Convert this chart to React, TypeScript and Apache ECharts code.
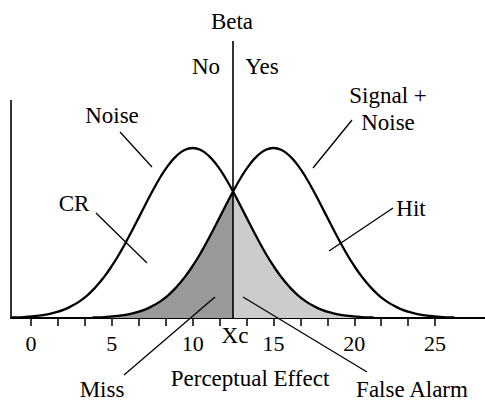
import { useEffect, useRef } from 'react';
import * as echarts from 'echarts';

// Decision criterion (Xc)
const criterion = 12.5;

// Axis ticks and labels
const xTicks = [0, 1.667, 3.333, 5, 6.667, 8.333, 10, 11.667, 13.333, 15, 16.667, 18.333, 20, 21.667, 23.333, 25];
const xLabels = [0, 5, 10, 15, 20, 25];

// Noise distribution (relative height, peak = 1)
const noiseCurve: [number, number][] = [
  [-1.2, 0.003], [-1, 0.003], [-0.5, 0.005], [0, 0.009], [0.5, 0.014], [1, 0.022], [1.5, 0.033],
  [2, 0.048], [2.5, 0.07], [3, 0.098], [3.5, 0.135], [4, 0.182], [4.5, 0.239], [5, 0.306],
  [5.5, 0.383], [6, 0.469], [6.5, 0.56], [7, 0.653], [7.5, 0.744], [8, 0.828], [8.5, 0.899],
  [9, 0.954], [9.5, 0.988], [10, 1], [10.5, 0.988], [11, 0.954], [11.5, 0.899], [12, 0.828],
  [12.5, 0.744], [13, 0.653], [13.5, 0.56], [14, 0.469], [14.5, 0.383], [15, 0.306], [15.5, 0.239],
  [16, 0.182], [16.5, 0.135], [17, 0.098], [17.5, 0.07], [18, 0.048], [18.5, 0.033], [19, 0.022],
  [19.5, 0.014], [20, 0.009], [20.5, 0.005], [21, 0.003], [21.2, 0.003],
];

// Signal + Noise distribution (relative height, peak = 1)
const signalCurve: [number, number][] = [
  [3.8, 0.003], [4, 0.003], [4.5, 0.005], [5, 0.009], [5.5, 0.014], [6, 0.022], [6.5, 0.033],
  [7, 0.048], [7.5, 0.07], [8, 0.098], [8.5, 0.135], [9, 0.182], [9.5, 0.239], [10, 0.306],
  [10.5, 0.383], [11, 0.469], [11.5, 0.56], [12, 0.653], [12.5, 0.744], [13, 0.828], [13.5, 0.899],
  [14, 0.954], [14.5, 0.988], [15, 1], [15.5, 0.988], [16, 0.954], [16.5, 0.899], [17, 0.828],
  [17.5, 0.744], [18, 0.653], [18.5, 0.56], [19, 0.469], [19.5, 0.383], [20, 0.306], [20.5, 0.239],
  [21, 0.182], [21.5, 0.135], [22, 0.098], [22.5, 0.07], [23, 0.048], [23.5, 0.033], [24, 0.022],
  [24.5, 0.014], [25, 0.009], [25.5, 0.005], [26, 0.003], [26.2, 0.003],
];

const xMin = -1.24;
const xMax = 28.09;
const yMax = 1.6294;
const yAxisTop = 1.2824;

const FONT = "'Liberation Serif', 'Times New Roman', serif";
const FS = 23;
const TICK_FS = 22;

// Annotation texts (pixel layout)
const labels: { text: string; x: number; y: number }[] = [
  { text: 'Beta', x: 232, y: 21 },
  { text: 'No', x: 206, y: 66 },
  { text: 'Yes', x: 262, y: 66 },
  { text: 'Noise', x: 112, y: 115 },
  { text: 'CR', x: 74, y: 203 },
  { text: 'Signal +', x: 388, y: 95 },
  { text: 'Noise', x: 388, y: 122 },
  { text: 'Hit', x: 411, y: 208 },
  { text: 'Xc', x: 235, y: 335 },
  { text: 'Perceptual Effect', x: 250, y: 378 },
  { text: 'Miss', x: 102, y: 389 },
  { text: 'False Alarm', x: 412, y: 389 },
];

// Leader lines (pixel layout)
const leaders: [number, number, number, number][] = [
  [120, 132, 152, 167],
  [96, 213, 147, 263],
  [352, 120, 313, 168],
  [393, 208, 329, 251],
  [124, 375, 215, 297],
  [367, 372, 243, 297],
];

export default function App() {
  const ref = useRef<HTMLDivElement>(null);
  useEffect(() => {
    if (!ref.current) return;
    const chart = echarts.init(ref.current, null, { renderer: 'svg' });
    const missArea = signalCurve.filter((p) => p[0] <= criterion);
    const faArea = noiseCurve.filter((p) => p[0] >= criterion);
    const graphic: any[] = [];
    leaders.forEach(([x1, y1, x2, y2]) => {
      graphic.push({
        type: 'line',
        shape: { x1, y1, x2, y2 },
        style: { stroke: '#000', lineWidth: 1.3 },
        z: 100,
      });
    });
    labels.forEach((l) => {
      graphic.push({
        type: 'text',
        x: l.x,
        y: l.y,
        style: {
          text: l.text,
          fill: '#000',
          fontSize: FS,
          fontFamily: FONT,
          align: 'center',
          verticalAlign: 'middle',
        },
        z: 100,
      });
    });
    chart.setOption({
      animation: false,
      grid: { left: 11, right: 0, top: 41, bottom: 402 - 318, containLabel: false },
      xAxis: {
        type: 'value',
        min: xMin,
        max: xMax,
        axisLine: { show: true, onZero: false, lineStyle: { color: '#000', width: 2 } },
        axisTick: { show: true, customValues: xTicks, length: 8, lineStyle: { color: '#000', width: 1.5 } },
        axisLabel: {
          show: true,
          customValues: xLabels,
          color: '#000',
          fontSize: TICK_FS,
          fontFamily: FONT,
          margin: 14,
        },
        splitLine: { show: false },
      },
      yAxis: {
        type: 'value',
        min: 0,
        max: yMax,
        show: false,
        splitLine: { show: false },
      },
      series: [
        {
          type: 'line',
          data: missArea,
          smooth: true,
          showSymbol: false,
          lineStyle: { width: 0 },
          areaStyle: { color: '#999999', opacity: 1 },
          z: 1,
          silent: true,
        },
        {
          type: 'line',
          data: faArea,
          smooth: true,
          showSymbol: false,
          lineStyle: { width: 0 },
          areaStyle: { color: '#cccccc', opacity: 1 },
          z: 1,
          silent: true,
        },
        {
          type: 'line',
          name: 'Noise',
          data: noiseCurve,
          smooth: true,
          showSymbol: false,
          lineStyle: { color: '#000', width: 2.3 },
          z: 3,
          silent: true,
          markLine: {
            silent: true,
            symbol: 'none',
            label: { show: false },
            lineStyle: { color: '#000', width: 1.6, type: 'solid' },
            data: [
              [{ coord: [criterion, 0] }, { coord: [criterion, yMax] }],
              [{ coord: [xMin, 0] }, { coord: [xMin, yAxisTop] }],
            ],
          },
        },
        {
          type: 'line',
          name: 'Signal + Noise',
          data: signalCurve,
          smooth: true,
          showSymbol: false,
          lineStyle: { color: '#000', width: 2.3 },
          z: 3,
          silent: true,
        },
      ],
      graphic,
    });
    return () => chart.dispose();
  }, []);
  return (
    <div
      ref={ref}
      style={{ position: 'absolute', left: 0, top: 0, width: 485, height: 402, background: '#fff' }}
    />
  );
}
